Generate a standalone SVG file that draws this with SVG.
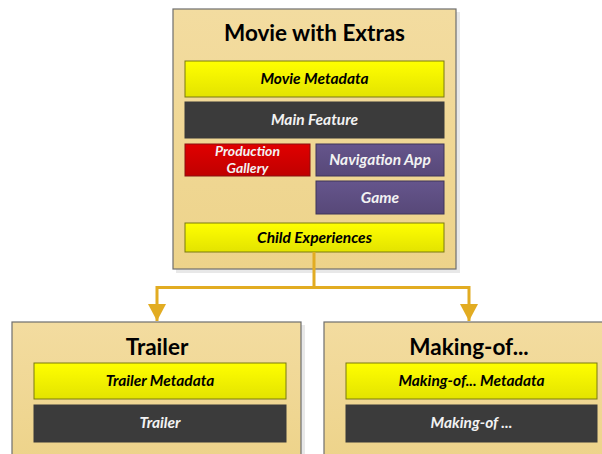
<svg xmlns="http://www.w3.org/2000/svg" width="602" height="454" viewBox="0 0 602 454">
<defs>
<linearGradient id="gOuter" x1="0" y1="0" x2="0" y2="1"><stop offset="0" stop-color="#F3DCA0"/><stop offset="1" stop-color="#EDD38A"/></linearGradient>
<linearGradient id="gYellow" x1="0" y1="0" x2="0" y2="1"><stop offset="0" stop-color="#FFFF00"/><stop offset="1" stop-color="#E3E300"/></linearGradient>
<linearGradient id="gRed" x1="0" y1="0" x2="0" y2="1"><stop offset="0" stop-color="#E00000"/><stop offset="1" stop-color="#C00000"/></linearGradient>
<linearGradient id="gPurple" x1="0" y1="0" x2="0" y2="1"><stop offset="0" stop-color="#65558C"/><stop offset="1" stop-color="#574878"/></linearGradient>
<marker id="arr" markerWidth="17" markerHeight="18" refX="17" refY="9" orient="auto" markerUnits="userSpaceOnUse" viewBox="0 0 17 18">
<path d="M0,0 L17,9 L0,18 Z" fill="#E2AC22"/>
</marker>
</defs>
<style>
.outer{fill:url(#gOuter);stroke:#6E6E6E;stroke-width:1.2}
.shadow{fill:#D9D9D9;opacity:0.6}
.yellow{fill:url(#gYellow);stroke:#7A7A10;stroke-width:1}
.dark{fill:#3B3B3B;stroke:#3B3B3B;stroke-width:1}
.red{fill:url(#gRed);stroke:#8A1010;stroke-width:1}
.purple{fill:url(#gPurple);stroke:#3E3458;stroke-width:1}
.title{font-family:Lato,"Open Sans","Liberation Sans",sans-serif;font-weight:bold;font-size:22.5px;fill:#000;text-anchor:middle}
.lbl{font-family:Lato,"Open Sans","Liberation Sans",sans-serif;font-weight:bold;font-style:italic;font-size:15.5px;text-anchor:middle}
.sm{font-size:14px}
.blk{fill:#000}
.wht{fill:#F2F2F2}
.conn{fill:none;stroke:#E2AC22;stroke-width:3}
</style>
<g id="movie">
<rect class="shadow" x="176" y="12" width="284" height="261"/>
<rect class="outer" x="173" y="9" width="283" height="260"/>
<text class="title" x="314.5" y="41">Movie with Extras</text>
<rect class="yellow" x="185" y="61" width="259" height="36"/>
<text class="lbl blk" x="314.5" y="84">Movie Metadata</text>
<rect class="dark" x="185" y="102" width="259" height="36"/>
<text class="lbl wht" x="314.5" y="125">Main Feature</text>
<rect class="red" x="185" y="144" width="125" height="32"/>
<text class="lbl sm wht" x="247.5" y="155.5"><tspan x="247.5" y="155.5">Production</tspan><tspan x="247.5" y="172.5">Gallery</tspan></text>
<rect class="purple" x="316" y="144" width="128" height="32"/>
<text class="lbl wht" x="380" y="165">Navigation App</text>
<rect class="purple" x="316" y="181" width="128" height="33"/>
<text class="lbl wht" x="380" y="203">Game</text>
<rect class="yellow" x="185" y="223" width="259" height="29"/>
<text class="lbl blk" x="314.5" y="243">Child Experiences</text>
</g>
<g id="connectors">
<path class="conn" d="M314,252 V287.5 H157 V321" marker-end="url(#arr)"/>
<path class="conn" d="M314,287.5 H469 V321" marker-end="url(#arr)"/>
</g>
<g id="trailer">
<rect class="shadow" x="15" y="325" width="290" height="140"/>
<rect class="outer" x="12" y="322" width="289" height="140"/>
<text class="title" x="157" y="355">Trailer</text>
<rect class="yellow" x="34" y="363" width="252" height="36"/>
<text class="lbl blk" x="160" y="386">Trailer Metadata</text>
<rect class="dark" x="34" y="405" width="252" height="37"/>
<text class="lbl wht" x="160" y="428">Trailer</text>
</g>
<g id="makingof">
<rect class="shadow" x="327" y="325" width="290" height="140"/>
<rect class="outer" x="324" y="322" width="290" height="140"/>
<text class="title" x="469" y="355">Making-of...</text>
<rect class="yellow" x="346" y="363" width="251" height="36"/>
<text class="lbl blk" x="471.5" y="386">Making-of... Metadata</text>
<rect class="dark" x="346" y="405" width="251" height="37"/>
<text class="lbl wht" x="471.5" y="428">Making-of ...</text>
</g>
</svg>
